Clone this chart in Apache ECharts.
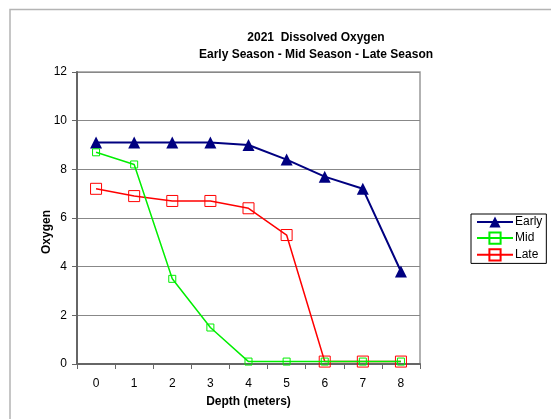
<!DOCTYPE html>
<html><head><meta charset="utf-8">
<script src="https://cdn.jsdelivr.net/npm/echarts@6/dist/echarts.min.js"></script>
<style>html,body{margin:0;padding:0;background:#fff}#c{width:551px;height:419px}</style>
</head><body><div id="c"></div>
<script>
var depths = ['0','1','2','3','4','5','6','7','8'];
var early = [9.1, 9.1, 9.1, 9.1, 9.0, 8.4, 7.7, 7.2, 3.8];
var mid = [8.7, 8.2, 3.5, 1.5, 0.1, 0.1, 0.1, 0.1, 0.1];
var late = [7.2, 6.9, 6.7, 6.7, 6.4, 5.3, 0.1, 0.1, 0.1];
var titleText = '2021  Dissolved Oxygen\nEarly Season - Mid Season - Late Season';
var font = 'Liberation Sans, Arial, sans-serif';
var chart = echarts.init(document.getElementById('c'));
chart.setOption({
  animation: false,
  backgroundColor: '#fff',
  title: {
    text: titleText, left: 311, top: 24, textAlign: 'center',
    textStyle: {fontFamily: font, fontSize: 12, fontWeight: 'bold', color: '#000', lineHeight: 17}
  },
  graphic: [
    {type: 'rect', shape: {x: 10, y: 9.5, width: 600, height: 500}, style: {fill: 'none', stroke: '#b4b4b4', lineWidth: 1.5}, z: -10},
    {type: 'text', x: 47, y: 232, rotation: Math.PI / 2, style: {text: 'Oxygen', fontFamily: font, fontSize: 12, fontWeight: 'bold', fill: '#000', align: 'center', verticalAlign: 'middle'}}
  ],
  legend: {
    orient: 'vertical', left: 471, top: 214,
    borderColor: '#000', borderWidth: 1, borderRadius: 0,
    padding: [2, 4, 2, 5], itemGap: 3.5, itemWidth: 36, itemHeight: 14,
    textStyle: {fontFamily: font, fontSize: 12, color: '#000', padding: [0, 0, 0, -3]},
    data: ['Early', 'Mid', 'Late']
  },
  grid: {left: 77, right: 131, top: 72, bottom: 55, show: true, borderColor: '#999', borderWidth: 1.5},
  xAxis: {
    type: 'category', data: depths, boundaryGap: true,
    name: 'Depth (meters)', nameLocation: 'middle', nameGap: 32,
    nameTextStyle: {fontFamily: font, fontSize: 12, fontWeight: 'bold', color: '#000'},
    axisLine: {lineStyle: {color: '#666', width: 2}},
    axisTick: {show: true, length: 5, lineStyle: {color: '#666'}},
    axisLabel: {fontFamily: font, fontSize: 12, color: '#000', margin: 14},
    splitLine: {show: false}
  },
  yAxis: {
    type: 'value', min: 0, max: 12, interval: 2,
    axisLine: {show: true, lineStyle: {color: '#666', width: 2}},
    axisTick: {show: true, length: 5, lineStyle: {color: '#666'}},
    axisLabel: {fontFamily: font, fontSize: 12, color: '#000', margin: 10},
    splitLine: {show: true, lineStyle: {color: '#888', width: 1}}
  },
  series: [
    {name: 'Early', type: 'line', data: early, symbol: 'triangle', symbolSize: 12,
     lineStyle: {color: '#000080', width: 2}, itemStyle: {color: '#000080'}, z: 3},
    {name: 'Mid', type: 'line', data: mid, symbol: 'rect', symbolSize: 7,
     lineStyle: {color: '#00ee00', width: 1.5}, itemStyle: {color: 'rgba(255,255,255,0)', borderColor: '#00ee00', borderWidth: 1}, z: 4},
    {name: 'Late', type: 'line', data: late, symbol: 'rect', symbolSize: 11,
     lineStyle: {color: '#ff0000', width: 1.5}, itemStyle: {color: 'rgba(255,255,255,0)', borderColor: '#ff0000', borderWidth: 1}, z: 2}
  ]
});
</script></body></html>
